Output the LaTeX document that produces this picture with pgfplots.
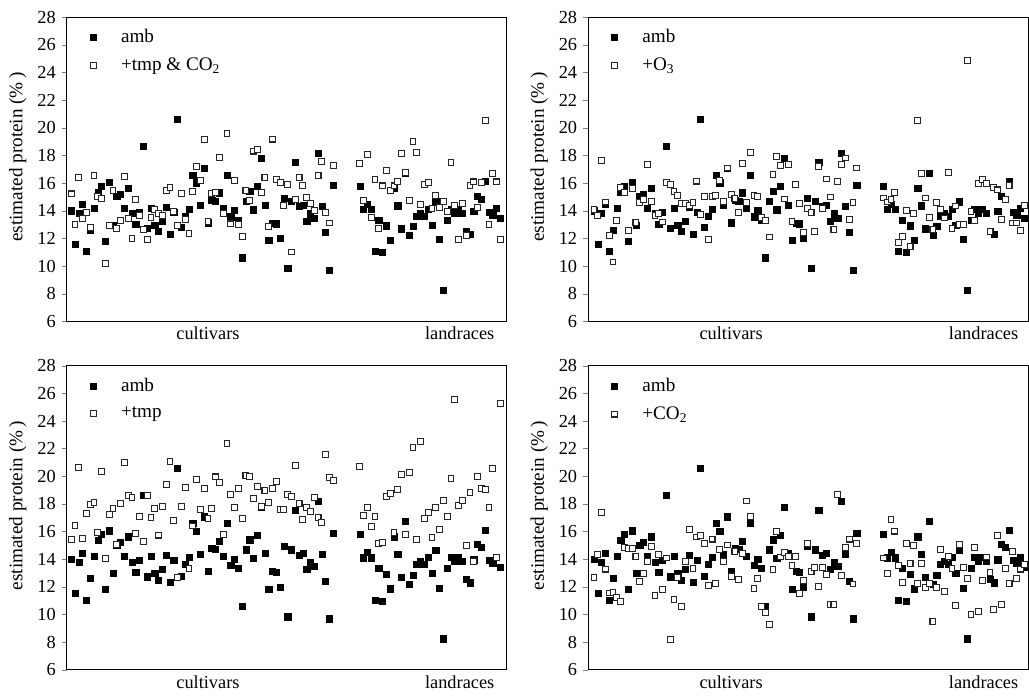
\documentclass[border=0pt]{standalone}
\usepackage{fontspec}
\setmainfont{Liberation Serif}
\usepackage{pgfplots}
\usepackage{pgfplotstable}
\pgfplotsset{compat=1.18}

% x: cultivars 1..70, landraces 77..114
\pgfplotstableread{
x amb tc o3 tmp co2
1 14.00 15.22 14.09 15.40 12.65
2 11.55 13.03 13.68 16.43 14.34
3 13.80 16.43 17.66 20.63 17.39
4 14.45 13.46 14.64 15.47 13.28
5 11.05 13.90 12.23 17.30 11.55
6 12.60 12.81 10.29 17.93 11.60
7 14.18 16.55 13.27 18.07 11.25
8 15.37 15.03 15.66 15.93 10.96
9 15.80 14.89 15.32 20.34 14.87
10 11.80 10.20 12.56 14.07 14.75
11 16.05 12.95 15.61 17.25 14.75
12 12.97 15.47 13.14 17.69 14.20
13 15.03 12.71 14.59 15.08 12.38
14 15.22 13.32 14.84 18.00 12.94
15 14.20 16.50 17.37 21.01 13.84
16 15.62 13.44 14.69 18.60 14.92
17 13.80 12.01 13.68 18.46 11.37
18 13.04 14.84 13.80 15.88 14.34
19 13.92 13.68 13.19 17.06 11.78
20 18.65 12.66 16.04 15.28 14.08
21 12.72 11.92 15.90 18.60 8.20
22 14.21 13.51 15.41 17.04 11.08
23 12.96 14.11 15.08 17.69 12.65
24 12.50 13.78 14.52 15.74 10.57
25 13.26 13.68 14.55 17.83 13.81
26 14.26 15.47 14.40 19.42 16.13
27 12.30 15.71 14.60 21.06 13.35
28 13.90 13.97 16.15 16.80 15.60
29 20.60 12.95 13.72 12.68 15.70
30 12.78 15.25 15.03 17.83 15.16
31 13.62 13.37 11.90 19.16 12.07
32 14.13 12.33 15.05 13.35 15.45
33 16.60 15.39 15.10 16.40 12.22
34 16.03 17.23 16.20 19.74 14.68
35 14.38 16.19 14.70 17.57 13.84
36 17.07 19.16 17.10 19.13 15.02
37 13.14 13.24 15.20 16.92 12.72
38 14.79 15.27 14.90 17.69 14.56
39 14.70 15.30 13.85 19.95 12.53
40 15.30 17.86 17.40 19.57 14.39
41 14.19 13.82 14.60 15.81 18.21
42 16.60 19.60 18.20 22.39 17.10
43 13.57 13.05 15.10 18.70 11.85
44 14.02 16.19 15.05 17.74 12.60
45 13.32 13.00 13.50 19.09 10.57
46 10.60 12.16 13.30 16.96 10.11
47 14.68 15.47 12.10 20.05 9.27
48 15.40 14.72 16.60 20.00 13.23
49 14.07 18.32 17.95 18.41 16.01
50 15.75 18.46 17.30 19.23 14.15
51 17.78 15.32 14.85 17.81 14.46
52 14.40 16.41 17.35 18.94 14.17
53 11.85 12.88 13.25 18.12 13.54
54 13.10 19.19 15.90 19.09 14.17
55 13.06 16.24 14.55 19.61 11.49
56 11.99 16.05 12.45 17.59 12.46
57 14.93 14.40 14.15 17.59 15.16
58 9.83 15.90 13.90 18.65 13.13
59 14.68 11.02 12.50 18.51 13.38
60 17.54 14.84 17.20 20.80 12.02
61 14.30 16.43 14.16 18.00 13.42
62 14.40 15.85 16.30 16.87 12.89
63 13.26 14.98 15.00 17.74 10.72
64 13.79 14.50 12.66 17.45 10.72
65 13.46 14.02 16.10 18.46 18.65
66 18.17 16.55 17.36 17.01 12.80
67 14.35 17.57 17.82 16.65 14.83
68 12.42 13.90 13.39 21.59 15.45
69 9.69 13.12 14.62 19.90 12.20
70 15.86 17.25 17.10 19.69 15.16
77 15.79 17.42 14.93 20.68 14.08
78 14.10 14.72 14.64 17.16 12.94
79 14.50 18.07 14.84 17.76 16.86
80 14.10 13.51 15.34 16.34 16.03
81 11.05 16.29 11.70 17.08 13.52
82 13.33 12.71 12.15 15.16 12.31
83 10.97 15.80 14.04 15.21 15.16
84 12.92 16.89 11.43 18.55 13.71
85 11.86 15.49 13.80 18.77 14.99
86 15.62 15.80 20.54 15.95 12.22
87 14.36 16.14 16.67 19.04 13.67
88 12.70 18.12 14.93 20.10 11.97
89 16.72 16.75 13.50 15.81 12.22
90 12.21 14.77 12.66 20.29 9.48
91 12.86 19.04 14.60 22.07 11.92
92 13.62 18.24 14.11 15.40 14.71
93 13.85 14.45 13.48 22.51 11.66
94 13.62 15.93 16.77 16.96 14.20
95 14.12 16.05 12.71 17.40 13.35
96 12.97 14.16 14.35 15.57 10.62
97 14.65 15.13 13.00 17.74 15.07
98 11.92 14.23 13.00 16.12 13.38
99 8.24 14.65 24.86 18.27 12.58
100 13.33 13.92 13.92 17.06 9.97
101 14.14 17.50 13.27 19.81 14.85
102 13.84 14.40 15.99 25.54 10.21
103 14.13 11.94 16.26 17.88 12.46
104 13.82 14.50 15.97 18.22 14.15
105 12.53 12.23 12.52 14.99 13.06
106 12.29 15.85 15.66 18.84 10.38
107 13.95 16.09 15.51 13.83 15.70
108 15.05 14.23 13.39 19.98 10.69
109 14.86 16.07 14.81 19.09 13.33
110 16.12 20.56 15.85 19.04 12.26
111 13.91 13.03 13.12 17.74 14.58
112 13.70 16.72 13.12 20.53 12.58
113 14.16 16.09 12.59 14.12 13.28
114 13.44 11.94 14.38 25.25 13.62
}\data

\pgfplotsset{
  panel/.style={
    width=264pt, height=182.4pt, scale only axis,
    ymin=6, ymax=28, ytick={6,8,...,28},
    xtick=\empty, minor xtick={0,...,115},
    extra x ticks={37,103.3},
    extra x tick labels={cultivars,landraces},
    extra x tick style={major tick length=0pt},
    tick align=outside, xtick pos=left, ytick pos=left,
    major tick length=3pt, minor tick length=1.3pt,
    minor tick style={black!55, line width=0.4pt},
    axis line style={line width=0.6pt},
    /pgf/number format/assume math mode=true,
    tick label style={font=\fontsize{11}{13}\selectfont},
    label style={font=\fontsize{11.5}{13}\selectfont},
    ylabel={estimated protein (\%\,)},
    ylabel style={at={(axis description cs:-0.111,0.54)}, anchor=center},
    legend style={draw=none, fill=none, at={(axis description cs:0,1)},
      anchor=north west, xshift=10.5pt, yshift=-3.2pt,
      font=\fontsize{11.5}{13}\selectfont, row sep=3.6pt,
      nodes={inner sep=2pt}},
    legend cell align=left,
    legend image code/.code={\path (-2pt,0pt) (14.5pt,0pt);
      \draw[##1] plot coordinates {(0pt,0pt)};},
  },
  leftp/.style={panel, xmin=-0.21, xmax=115.67},
  rightp/.style={panel, xmin=-0.58, xmax=114.97},
  ambst/.style={only marks, mark=square*, mark size=1.85pt,
    mark options={draw=black, fill=black, line width=0.3pt}},
  trtst/.style={only marks, mark=square*, mark size=1.75pt,
    mark options={draw=black!85, fill=white, line width=0.62pt}},
}

\begin{document}
\begin{tikzpicture}
\useasboundingbox (0pt,0pt) rectangle (617.4pt,-417.6pt);

\begin{axis}[leftp, at={(40pt,-10.4pt)}, anchor=north west]
\addplot[ambst] table[x=x,y=amb] {\data};
\addlegendentry{amb}
\addplot[trtst] table[x=x,y=tc] {\data};
\addlegendentry{+tmp \& CO\textsubscript{2}}
\end{axis}

\begin{axis}[rightp, at={(352.8pt,-10.4pt)}, anchor=north west]
\addplot[ambst] table[x=x,y=amb] {\data};
\addlegendentry{amb}
\addplot[trtst] table[x=x,y=o3] {\data};
\addlegendentry{+O\textsubscript{3}}
\end{axis}

\begin{axis}[leftp, at={(40pt,-219.4pt)}, anchor=north west]
\addplot[ambst] table[x=x,y=amb] {\data};
\addlegendentry{amb}
\addplot[trtst] table[x=x,y=tmp] {\data};
\addlegendentry{+tmp}
\end{axis}

\begin{axis}[rightp, at={(352.8pt,-219.4pt)}, anchor=north west]
\addplot[ambst] table[x=x,y=amb] {\data};
\addlegendentry{amb}
\addplot[trtst] table[x=x,y=co2] {\data};
\addlegendentry{+CO\textsubscript{2}}
\end{axis}
\end{tikzpicture}
\end{document}
